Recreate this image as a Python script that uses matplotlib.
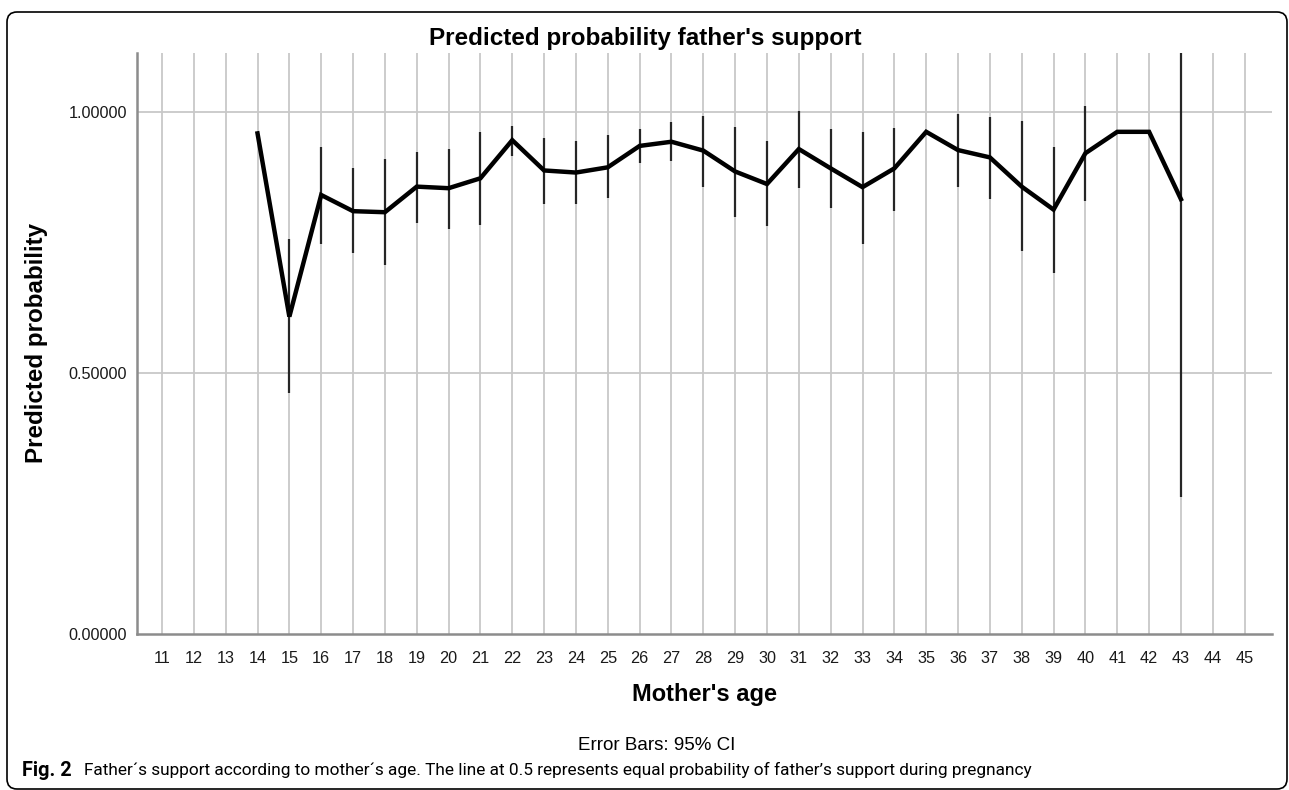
import numpy as np
import matplotlib
matplotlib.use("Agg")
import matplotlib.pyplot as plt
from matplotlib.patches import FancyBboxPatch

plt.rcParams['font.family'] = ['Liberation Sans', 'DejaVu Sans']

# Data
ages = list(range(11, 46))
plot_ages = list(range(14, 44))
prob = [0.959, 0.608, 0.841, 0.810, 0.808, 0.857, 0.854, 0.873, 0.946, 0.888,
        0.884, 0.894, 0.935, 0.943, 0.926, 0.886, 0.862, 0.929, 0.892, 0.856,
        0.892, 0.962, 0.927, 0.913, 0.857, 0.813, 0.921, 0.962, 0.962, 0.833]
ci_low = [np.nan, 0.461, 0.747, 0.729, 0.706, 0.788, 0.776, 0.784, 0.916, 0.823,
          0.823, 0.835, 0.902, 0.906, 0.856, 0.798, 0.782, 0.855, 0.817, 0.748,
          0.811, np.nan, 0.857, 0.833, 0.734, 0.692, 0.829, np.nan, np.nan, 0.262]
ci_high = [np.nan, 0.756, 0.932, 0.892, 0.909, 0.924, 0.929, 0.961, 0.973, 0.950,
           0.945, 0.955, 0.967, 0.980, 0.993, 0.972, 0.944, 1.001, 0.967, 0.961,
           0.970, np.nan, 0.996, 0.990, 0.983, 0.932, 1.011, np.nan, np.nan, 1.400]
y_ticks = [0.0, 0.5, 1.0]

W, H = 1289, 790
fig = plt.figure(figsize=(W / 100, H / 100), dpi=100)
ax = fig.add_axes([137 / W, (H - 634) / H, (1272 - 137) / W, (634 - 53) / H])

# grid
for a in ages:
    ax.axvline(a, color='#c8c8c8', lw=1.3, zorder=1)
for v in y_ticks[1:]:
    ax.axhline(v, color='#c8c8c8', lw=1.3, zorder=1)

# error bars
ax.vlines(plot_ages, ci_low, ci_high, color='#262626', lw=1.6, zorder=2)
# line
ax.plot(plot_ages, prob, color='black', lw=3.2, solid_joinstyle='miter', zorder=3)

ax.set_xlim(10.215, 45.86)
ax.set_ylim(0, 1.113)
ax.set_xticks(ages)
ax.set_xticklabels([str(a) for a in ages])
ax.set_yticks(y_ticks)
ax.set_yticklabels(['%.5f' % v for v in y_ticks])
ax.tick_params(length=0, labelsize=11.7, colors='#1a1a1a')
ax.tick_params(axis='x', pad=12)
ax.tick_params(axis='y', pad=7)

for s in ['top', 'right']:
    ax.spines[s].set_visible(False)
for s in ['left', 'bottom']:
    ax.spines[s].set_color('#8c8c8c')
    ax.spines[s].set_linewidth(1.8)

ax.set_xlabel("Mother's age", fontsize=17, fontweight='bold')
ax.xaxis.label.set_va('center')
ax.xaxis.set_label_coords(0.5, -(694 - 634) / 581)
ax.set_ylabel("Predicted probability", fontsize=17.4, fontweight='bold')
ax.yaxis.label.set_va('center')
ax.yaxis.set_label_coords((37 - 137) / 1135, 0.5)

fig.text(645 / W, 1 - 38 / H, "Predicted probability father's support",
         ha='center', va='center', fontsize=17.5, fontweight='bold')
fig.text(657 / W, 1 - 745 / H, "Error Bars: 95% CI",
         ha='center', va='center', fontsize=13.5)

cap_font = ['Roboto', 'DejaVu Sans']
t1 = fig.text(22 / W, 1 - 770 / H, "Fig. 2", ha='left', va='center',
              fontsize=14.3, fontweight='bold', family=cap_font)
fig.canvas.draw()
bb = t1.get_window_extent()
fig.text(84 / W, 1 - 770 / H,
         "Father\u00b4s support according to mother\u00b4s age. The line at 0.5 "
         "represents equal probability of father\u2019s support during pregnancy",
         ha='left', va='center', fontsize=12.45, family=cap_font)

frame = FancyBboxPatch((7, H - 789), 1287 - 7, 789 - 12,
                       boxstyle="round,pad=0,rounding_size=10",
                       transform=None, fill=False, ec='black', lw=1.2)
fig.add_artist(frame)

fig.savefig("out.png", dpi=100)
